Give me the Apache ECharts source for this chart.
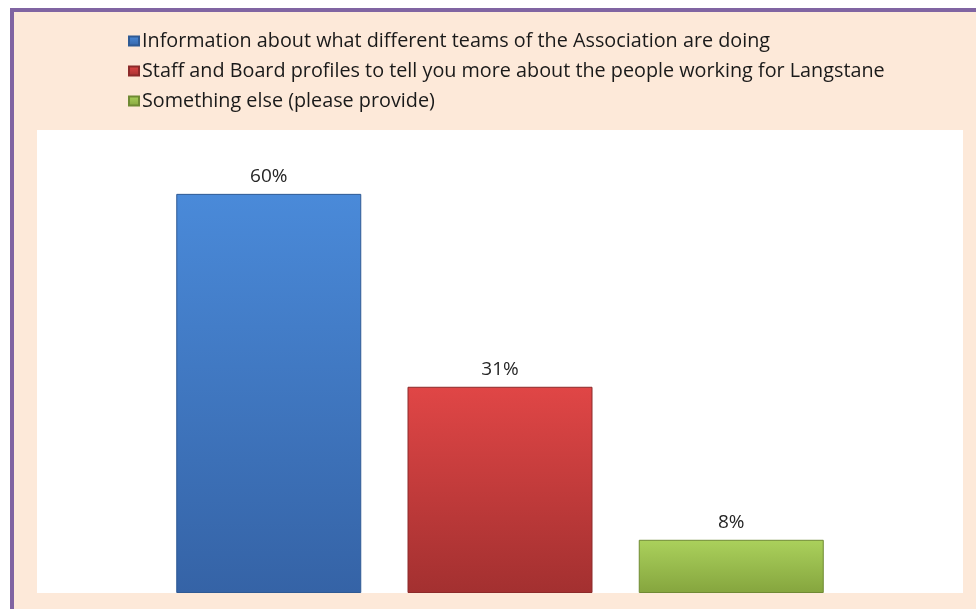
<!DOCTYPE html>
<html><head><meta charset="utf-8">
<script src="https://cdn.jsdelivr.net/npm/echarts@6/dist/echarts.min.js"></script>
<style>html,body{margin:0;padding:0;background:#fff}#c{width:976px;height:609px}</style>
</head><body><div id="c"></div>
<script>
const category = [''];
const seriesNames = [
  'Information about what different teams of the Association are doing',
  'Staff and Board profiles to tell you more about the people working for Langstane',
  'Something else (please provide)'
];
const seriesValues = [60, 31, 8];
const seriesColors = [
  ['#4a8ad9', '#3563a6'],
  ['#e04646', '#a33030'],
  ['#abd15c', '#85a53e']
];
const borderColors = ['#2f5a94', '#8c2a2a', '#6f8a33'];

const chart = echarts.init(document.getElementById('c'), null, {renderer: 'canvas'});
function grad(c) {
  return new echarts.graphic.LinearGradient(0, 0, 0, 1, [{offset: 0, color: c[0]}, {offset: 1, color: c[1]}]);
}
const FONT = 'Open Sans';
chart.setOption({
  backgroundColor: '#ffffff',
  animation: false,
  graphic: [
    {type: 'rect', z: -10, shape: {x: 12, y: 10, width: 1000, height: 700}, style: {fill: '#fde9d9', stroke: '#8064a2', lineWidth: 4}},
    {type: 'rect', z: -9, shape: {x: 37, y: 130, width: 926, height: 463}, style: {fill: '#ffffff'}}
  ],
  legend: {
    orient: 'vertical', left: 123, top: 26, itemWidth: 10, itemHeight: 9, itemGap: 10,
    icon: 'rect',
    textStyle: {fontFamily: FONT, fontSize: 19.8, lineHeight: 20, color: '#1a1a1a', padding: [0, 0, 0, -2]},
    data: seriesNames
  },
  grid: {left: 37, right: 13, top: 130, bottom: 16},
  xAxis: {type: 'category', data: category, show: false},
  yAxis: {type: 'value', min: 0, max: 69.6, show: false, splitLine: {show: false}},
  series: seriesNames.map((n, i) => ({
    name: n, type: 'bar', data: [seriesValues[i]],
    barWidth: 185, barGap: '25%',
    itemStyle: {color: grad(seriesColors[i]), borderColor: borderColors[i], borderWidth: 1},
    label: {show: true, position: 'top', distance: 8, formatter: '{c}%', fontFamily: FONT, fontSize: 19, color: '#262626'}
  }))
});
</script></body></html>
